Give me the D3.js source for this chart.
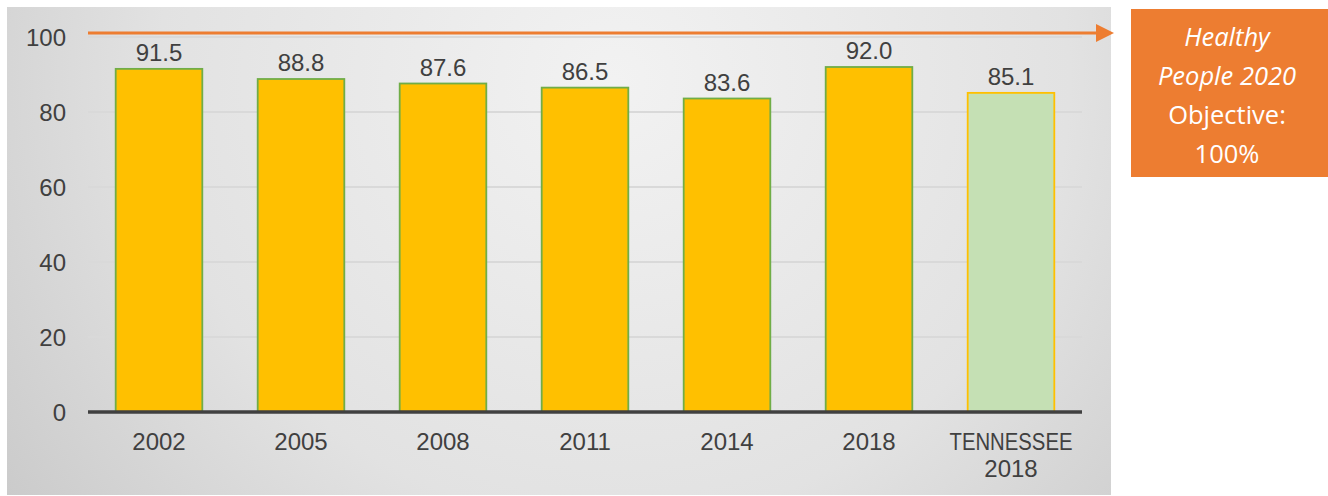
<!DOCTYPE html>
<html><head><meta charset="utf-8">
<script src="https://cdn.jsdelivr.net/npm/d3@7"></script>
<style>body{margin:0;background:#fff}svg{display:block}</style>
</head><body><svg id="c" width="1328" height="496"></svg>
<script>
const categories = ["2002","2005","2008","2011","2014","2018","TENNESSEE 2018"];
const values = [91.5, 88.8, 87.6, 86.5, 83.6, 92.0, 85.1];
const yTicks = [0,20,40,60,80,100];
const target = 100;
const boxLines = ["Healthy","People 2020","Objective:","100%"];

const svg = d3.select("#c");
const defs = svg.append("defs");
const g1 = defs.append("radialGradient").attr("id","bg").attr("cx","0.55").attr("cy","0.15").attr("r","0.75")
  .attr("gradientTransform","translate(0.55,0.15) scale(1,2.2) translate(-0.55,-0.15)");
g1.append("stop").attr("offset","0").attr("stop-color","#f2f2f2");
g1.append("stop").attr("offset","0.55").attr("stop-color","#e2e2e2");
g1.append("stop").attr("offset","1").attr("stop-color","#c4c4c4");
defs.append("marker").attr("id","arr").attr("viewBox","0 0 10 10").attr("refX","0").attr("refY","5")
  .attr("markerWidth",6).attr("markerHeight",6).attr("markerUnits","strokeWidth").attr("orient","auto")
  .append("path").attr("d","M0,0 L10,5 L0,10 Z").attr("fill","#ED7D31");

svg.append("rect").attr("x",7).attr("y",7).attr("width",1104).attr("height",488).attr("fill","url(#bg)");

const x = d3.scaleBand().domain(categories).range([88,1082]).paddingInner(0.39).paddingOuter(0.195);
const y = d3.scaleLinear().domain([0,100]).range([412,37]);
const FONT = "Liberation Sans, Arial, sans-serif";

// gridlines
svg.append("g").selectAll("line").data(yTicks.filter(d=>d>0)).join("line")
  .attr("x1",88).attr("x2",1082).attr("y1",d=>y(d)).attr("y2",d=>y(d))
  .attr("stroke","#d9d9d9").attr("stroke-width",2);

// y axis labels
const yAxis = d3.axisLeft(y).tickValues(yTicks).tickSize(0).tickPadding(0);
const ya = svg.append("g").attr("transform","translate(66,0)").call(yAxis);
ya.select(".domain").remove();
ya.selectAll("text").attr("font-family",FONT).attr("font-size",24).attr("fill","#404040").attr("dy","0.35em");

// bars
svg.append("g").selectAll("rect").data(values).join("rect")
  .attr("x",(d,i)=>x(categories[i])).attr("width",x.bandwidth())
  .attr("y",d=>y(d)).attr("height",d=>y(0)-y(d))
  .attr("fill",(d,i)=>i===6?"#C5E0B4":"#FFC000")
  .attr("stroke",(d,i)=>i===6?"#FFC000":"#70AD47").attr("stroke-width",1.8);

// value labels
svg.append("g").selectAll("text").data(values).join("text")
  .attr("x",(d,i)=>x(categories[i])+x.bandwidth()/2).attr("y",d=>y(d)-8)
  .attr("text-anchor","middle").attr("font-family",FONT).attr("font-size",24)
  .attr("fill","#404040").text(d=>d.toFixed(1));

// x axis
const xAxis = d3.axisBottom(x).tickSize(0).tickPadding(0);
const xa = svg.append("g").attr("transform","translate(0,412)").call(xAxis);
xa.select(".domain").remove();
xa.selectAll("text").remove();
svg.append("line").attr("x1",88).attr("x2",1082).attr("y1",y(0)).attr("y2",y(0)).attr("stroke","#404040").attr("stroke-width",3.5);
xa.selectAll(".tick").each(function(d){
  const parts = d.split(" ");
  const g = d3.select(this);
  parts.forEach((p,i)=>{
    const isNum = /^[0-9]+$/.test(p);
    const t = g.append("text").attr("text-anchor","middle").attr("font-family",FONT).attr("fill","#404040")
      .attr("x",0).attr("y",38+i*27).attr("font-size",isNum?24:23).text(p);
    if(!isNum) t.attr("textLength",123).attr("lengthAdjust","spacingAndGlyphs");
  });
});

// target arrow
svg.append("line").attr("x1",88).attr("x2",1096).attr("y1",y(target)-4).attr("y2",y(target)-4)
  .attr("stroke","#ED7D31").attr("stroke-width",3).attr("marker-end","url(#arr)");

// box
svg.append("rect").attr("x",1131).attr("y",9).attr("width",197).attr("height",168).attr("fill","#ED7D31");
const bt = svg.append("text").attr("text-anchor","middle").attr("font-family","Open Sans, sans-serif")
  .attr("font-size",25.5).attr("fill","#fff");
boxLines.forEach((l,i)=>bt.append("tspan").attr("x",1227).attr("y",46+i*39)
  .attr("font-style",i<2?"italic":"normal").text(l));
</script></body></html>
